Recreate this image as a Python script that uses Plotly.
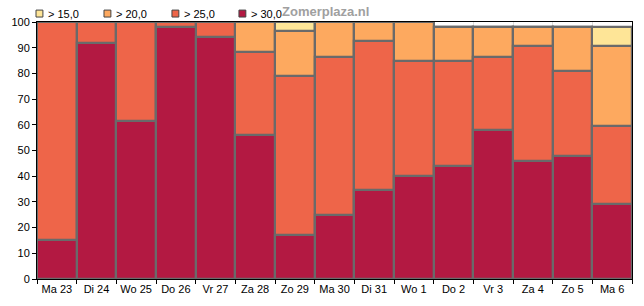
import plotly.graph_objects as go

days = ["Ma 23", "Di 24", "Wo 25", "Do 26", "Vr 27", "Za 28", "Zo 29", "Ma 30",
        "Di 31", "Wo 1", "Do 2", "Vr 3", "Za 4", "Zo 5", "Ma 6"]

# cumulative percentages (share above each threshold)
pct_gt15 = [100, 100, 100, 100, 100, 100, 100, 100, 100, 100, 98, 98, 98, 98, 98]
pct_gt20 = [100, 100, 100, 100, 100, 100, 96.5, 100, 100, 100, 98, 98, 98, 98, 90.5]
pct_gt25 = [100, 100, 100, 100, 100, 88.5, 79, 86.5, 92.5, 85, 85, 86.5, 90.5, 81, 59.5]
pct_gt30 = [15, 92, 61.5, 98, 94, 56, 17, 25, 34.5, 40, 44, 58, 46, 48, 29]

series_names = ["> 15,0", "> 20,0", "> 25,0", "> 30,0"]
series_colors = ["#FEE597", "#FDA95F", "#EE6549", "#B31942"]
series_values = [pct_gt15, pct_gt20, pct_gt25, pct_gt30]

W, H = 644, 306
ML, MR, MT, MB = 29, 11, 22, 25
PW, PH = W - ML - MR, H - MT - MB


def px_x(px):
    return (px - ML) / PW


def px_y(py):
    return (H - MB - py) / PH


fig = go.Figure()
for name, color, vals in zip(series_names, series_colors, series_values):
    fig.add_trace(go.Bar(
        x=days, y=vals, name=name,
        marker=dict(color=color, line=dict(color="#6a6a6a", width=2.2)),
        hoverinfo="x+y+name",
        showlegend=False,
    ))

font_family = "Liberation Sans, Arial, sans-serif"

# legend drawn as small keys with labels across the top margin
shapes = []
annotations = []
key_left = [28, 97, 166, 234]
for i, (name, color) in enumerate(zip(series_names, series_colors)):
    x0 = key_left[i]
    shapes.append(dict(
        type="rect", xref="paper", yref="paper",
        x0=px_x(x0), x1=px_x(x0 + 7), y0=px_y(17), y1=px_y(10),
        fillcolor=color, line=dict(color="#444444", width=1), layer="above",
    ))
    annotations.append(dict(
        text=name, xref="paper", yref="paper",
        x=px_x(x0 + 10), y=px_y(13.5), xanchor="left", yanchor="middle",
        showarrow=False, font=dict(family=font_family, size=11, color="black"),
    ))

annotations.append(dict(
    text="<b>Zomerplaza.nl</b>", xref="paper", yref="paper",
    x=px_x(322), y=px_y(11), xanchor="center", yanchor="middle",
    showarrow=False, font=dict(family=font_family, size=13, color="#a0a0a0"),
))

fig.update_layout(
    width=W, height=H,
    margin=dict(l=ML, r=MR, t=MT, b=MB),
    barmode="overlay",
    bargap=0,
    paper_bgcolor="white",
    plot_bgcolor="white",
    font=dict(family=font_family, size=11, color="black"),
    showlegend=False,
    xaxis=dict(
        type="category",
        showline=True, linecolor="black", linewidth=1, mirror=True,
        ticks="outside", ticklen=4, tickcolor="black", tickson="boundaries",
        showgrid=True, gridcolor="#dddddd", gridwidth=1,
        tickfont=dict(size=11), tickangle=0,
        fixedrange=True,
    ),
    yaxis=dict(
        range=[0, 100],
        dtick=10,
        showline=True, linecolor="black", linewidth=1, mirror=True,
        ticks="outside", ticklen=4, tickcolor="black",
        showgrid=False, zeroline=False,
        tickfont=dict(size=11),
        fixedrange=True,
    ),
    shapes=shapes,
    annotations=annotations,
)

fig.write_html("out.html")
